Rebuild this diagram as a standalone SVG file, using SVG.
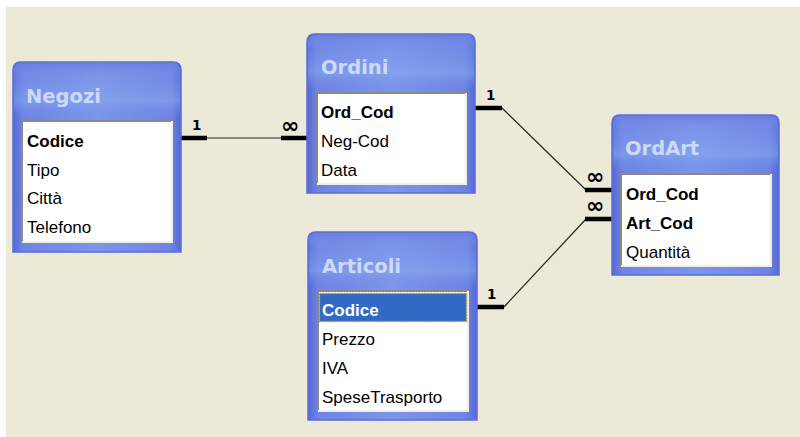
<svg xmlns="http://www.w3.org/2000/svg" width="800" height="437" viewBox="0 0 800 437">
<defs>
<linearGradient id="frameG" x1="0" y1="0" x2="1" y2="0">
<stop offset="0" stop-color="#5568D6"/>
<stop offset="0.06" stop-color="#6F83E4"/>
<stop offset="0.5" stop-color="#7C96EA"/>
<stop offset="0.94" stop-color="#6F83E4"/>
<stop offset="1" stop-color="#5568D6"/>
</linearGradient>
<linearGradient id="titleG" x1="0" y1="0" x2="0" y2="1">
<stop offset="0" stop-color="#6A7EE0" stop-opacity="0.9"/>
<stop offset="0.25" stop-color="#7A98EA" stop-opacity="0.3"/>
<stop offset="0.7" stop-color="#8AAEF0" stop-opacity="0.5"/>
<stop offset="1" stop-color="#7088E6" stop-opacity="0"/>
</linearGradient>
</defs>
<style>
.frame{fill:url(#frameG);stroke:#5A6CD6;stroke-width:1.5}
.tband{fill:url(#titleG)}
.title{font-family:"DejaVu Sans",sans-serif;font-weight:bold;font-size:19.5px;fill:#CCDAF7}
.list{fill:#FFFFFF}
.insetD{stroke:#8C8A80;stroke-width:2;fill:none}
.insetL{stroke:#F1EFE2;stroke-width:2;fill:none}
.row{font-family:"Liberation Sans",Arial,sans-serif;font-size:17px;fill:#000}
.key{font-weight:bold}
.sel{fill:#316AC5;stroke:#B8923A;stroke-width:1.5;stroke-dasharray:1.5 1.5}
.selt{fill:#FFFFFF}
.thick{stroke:#000;stroke-width:4.5;fill:none}
.thin{stroke:#222;stroke-width:1.2;fill:none}
.card{font-family:"DejaVu Sans",sans-serif;font-weight:bold;fill:#000}
.one{font-size:13.5px}
.inf{font-size:22px}
</style>
<rect x="0" y="0" width="800" height="437" fill="#FFFFFF"/>
<rect x="6" y="7" width="794" height="430" fill="#ECE9D8"/>

<g id="connectors">
<line class="thick" x1="181" y1="138" x2="207" y2="138"/>
<line class="thin" x1="207" y1="138" x2="281" y2="138"/>
<line class="thick" x1="281" y1="138" x2="307" y2="138"/>
<text class="card one" x="192" y="130">1</text>
<text class="card inf" x="281" y="133">∞</text>

<line class="thick" x1="475" y1="108" x2="502" y2="108"/>
<line class="thin" x1="502" y1="108" x2="586" y2="190"/>
<line class="thick" x1="585" y1="190" x2="612" y2="190"/>
<text class="card one" x="486" y="100">1</text>
<text class="card inf" x="586" y="184">∞</text>

<line class="thick" x1="477" y1="307" x2="504" y2="307"/>
<line class="thin" x1="504" y1="307" x2="586" y2="219"/>
<line class="thick" x1="585" y1="219" x2="612" y2="219"/>
<text class="card one" x="487" y="299">1</text>
<text class="card inf" x="586" y="213">∞</text>
</g>

<g id="negozi">
<path class="frame" d="M13,252 V70 Q13,62 21,62 H173 Q181,62 181,70 V252 Z"/>
<rect class="tband" x="14" y="63" width="166" height="55" rx="7"/>
<text class="title" x="26" y="103">Negozi</text>
<rect class="list" x="21" y="120" width="152" height="122"/>
<polyline class="insetD" points="22,242 22,121 173,121"/>
<polyline class="insetL" points="22,242 172,242 172,121"/>
<text class="row key" x="27" y="147">Codice</text>
<text class="row" x="27" y="176">Tipo</text>
<text class="row" x="27" y="204">Città</text>
<text class="row" x="27" y="233">Telefono</text>
</g>

<g id="ordini">
<path class="frame" d="M307,193 V42 Q307,34 315,34 H467 Q475,34 475,42 V193 Z"/>
<rect class="tband" x="308" y="35" width="166" height="55" rx="7"/>
<text class="title" x="321" y="74">Ordini</text>
<rect class="list" x="316" y="92" width="151" height="93"/>
<polyline class="insetD" points="317,185 317,93 467,93"/>
<polyline class="insetL" points="317,184 466,184 466,93"/>
<text class="row key" x="321" y="118">Ord_Cod</text>
<text class="row" x="321" y="147">Neg-Cod</text>
<text class="row" x="321" y="176">Data</text>
</g>

<g id="ordart">
<path class="frame" d="M612,275 V123 Q612,115 620,115 H771 Q779,115 779,123 V275 Z"/>
<rect class="tband" x="613" y="116" width="165" height="55" rx="7"/>
<text class="title" x="625" y="155">OrdArt</text>
<rect class="list" x="620" y="173" width="152" height="94"/>
<polyline class="insetD" points="621,267 621,174 772,174"/>
<polyline class="insetL" points="621,266 771,266 771,174"/>
<text class="row key" x="626" y="200">Ord_Cod</text>
<text class="row key" x="626" y="229">Art_Cod</text>
<text class="row" x="626" y="258">Quantità</text>
</g>

<g id="articoli">
<path class="frame" d="M308,420 V240 Q308,232 316,232 H469 Q477,232 477,240 V420 Z"/>
<rect class="tband" x="309" y="233" width="167" height="55" rx="7"/>
<text class="title" x="322" y="273">Articoli</text>
<rect class="list" x="317" y="290" width="152" height="122"/>
<polyline class="insetD" points="318,412 318,291 469,291"/>
<polyline class="insetL" points="318,411 468,411 468,291"/>
<rect class="sel" x="319.5" y="293.5" width="147" height="28"/>
<text class="row key selt" x="322" y="316">Codice</text>
<text class="row" x="322" y="345">Prezzo</text>
<text class="row" x="322" y="374">IVA</text>
<text class="row" x="322" y="403">SpeseTrasporto</text>
</g>
</svg>
